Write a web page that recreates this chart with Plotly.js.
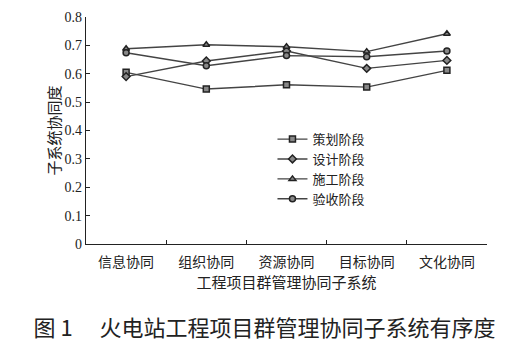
<!DOCTYPE html>
<html>
<head>
<meta charset="utf-8">
<script src="https://cdn.plot.ly/plotly-3.0.1.min.js"></script>
<style>
html,body{margin:0;padding:0;background:#fff;}
#chart{width:529px;height:355px;}
</style>
</head>
<body>
<div id="chart"></div>
<script>
const categories = ["信息协同", "组织协同", "资源协同", "目标协同", "文化协同"];
const seriesNames = ["策划阶段", "设计阶段", "施工阶段", "验收阶段"];
const planning = [0.605, 0.546, 0.561, 0.553, 0.612];
const design = [0.590, 0.645, 0.680, 0.619, 0.647];
const construction = [0.688, 0.702, 0.695, 0.678, 0.741];
const acceptance = [0.674, 0.628, 0.664, 0.660, 0.680];
const yTicks = [0, 0.1, 0.2, 0.3, 0.4, 0.5, 0.6, 0.7, 0.8];
const yTickLabels = ["0", "0.1", "0.2", "0.3", "0.4", "0.5", "0.6", "0.7", "0.8"];

const cjk = '"Noto Sans CJK SC", "Noto Sans", sans-serif';
const serif = '"Liberation Serif", "DejaVu Serif", serif';
const lineColor = '#444';
const markColor = '#222';

function mk(name, ys, symbol, size) {
  return {
    type: 'scatter', mode: 'lines+markers', name: name,
    x: categories, y: ys,
    line: {color: lineColor, width: 1.4},
    marker: {symbol: symbol, size: size, color: '#888', line: {color: markColor, width: 1.5}}
  };
}

const data = [
  mk(seriesNames[0], planning, 'square', 6),
  mk(seriesNames[1], design, 'diamond', 6),
  mk(seriesNames[2], construction, 'triangle-up', 6),
  mk(seriesNames[3], acceptance, 'circle', 6)
];

const layout = {
  width: 529, height: 355,
  margin: {l: 86, r: 42, t: 17, b: 111},
  paper_bgcolor: '#fff', plot_bgcolor: '#fff',
  showlegend: true,
  legend: {
    x: 0.465, y: 0.528, xanchor: 'left', yanchor: 'top',
    font: {family: cjk, size: 13, color: '#222'},
    bgcolor: 'rgba(0,0,0,0)', tracegroupgap: 0, itemwidth: 30
  },
  title: {
    text: '图 1　 火电站工程项目群管理协同子系统有序度',
    x: 0.5, xanchor: 'center', y: 1 - 328/355, yanchor: 'middle', yref: 'container',
    font: {family: cjk, size: 22, color: '#222'}
  },
  xaxis: {
    type: 'category', range: [-0.5, 4.5],
    tickson: 'boundaries', ticks: 'inside', ticklen: 4, tickcolor: '#222',
    showline: true, linecolor: '#222', linewidth: 1.2,
    showgrid: false, zeroline: false,
    ticklabelstandoff: 5,
    tickfont: {family: cjk, size: 14, color: '#222'},
    title: {text: '工程项目群管理协同子系统', font: {family: cjk, size: 15, color: '#222'}, standoff: 6}
  },
  yaxis: {
    range: [0, 0.8], tickvals: yTicks, ticktext: yTickLabels,
    ticks: 'inside', ticklen: 4, tickcolor: '#222',
    showline: true, linecolor: '#222', linewidth: 1.2,
    showgrid: false, zeroline: false,
    tickfont: {family: serif, size: 14, color: '#222'},
    title: {text: '子系统协同度', font: {family: cjk, size: 15, color: '#222'}, standoff: 0}
  }
};

Plotly.newPlot('chart', data, layout, {displayModeBar: false, staticPlot: true});
</script>
</body>
</html>
